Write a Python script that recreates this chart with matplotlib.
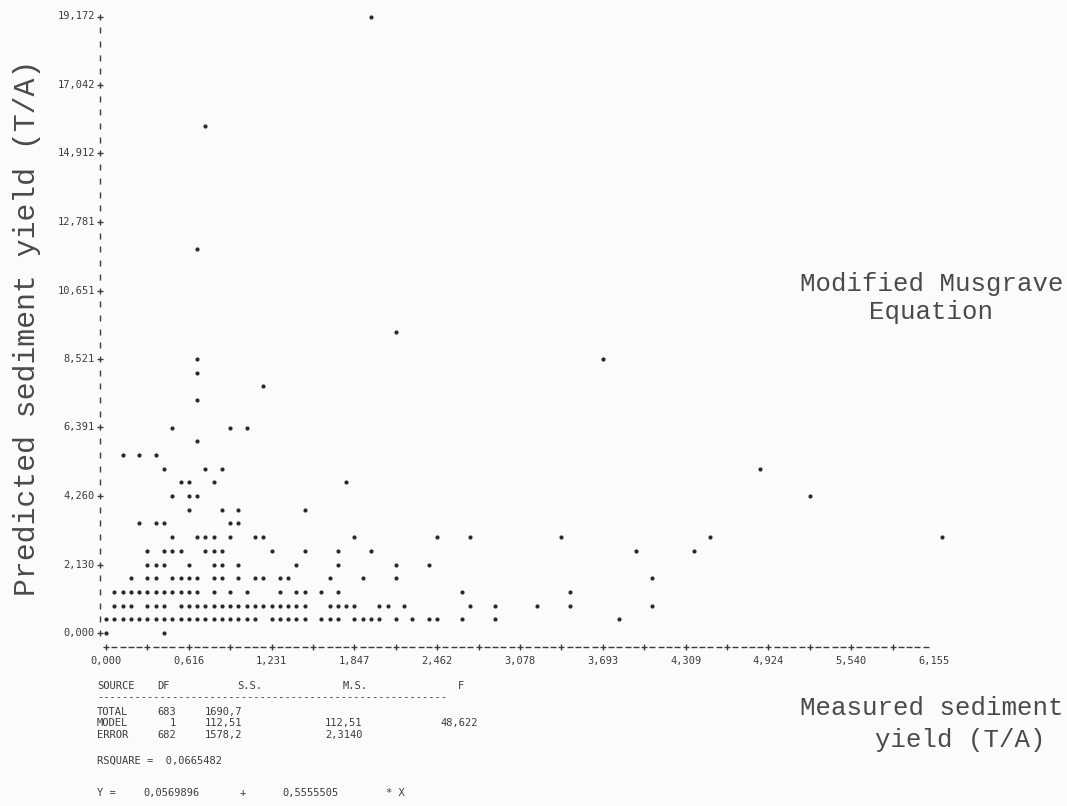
import matplotlib.pyplot as plt

# =========================
# Axis labels as printed
# =========================
x_tick_values = [0.000, 0.616, 1.231, 1.847, 2.462, 3.078, 3.693, 4.309, 4.924, 5.540, 6.155]
x_tick_labels = ["0,000", "0,616", "1,231", "1,847", "2,462", "3,078",
                 "3,693", "4,309", "4,924", "5,540", "6,155"]
y_tick_values = [0.000, 2.130, 4.260, 6.391, 8.521, 10.651, 12.781, 14.912, 17.042, 19.172]
y_tick_labels = ["0,000", "2,130", "4,260", "6,391", "8,521",
                 "10,651", "12,781", "14,912", "17,042", "19,172"]

# one printer column / one printer line in data units
XSTEP = x_tick_values[-1] / 100
YSTEP = y_tick_values[-1] / 45

# =========================
# Points: printer columns on each printer line
# =========================
line_0 = [0, 7]
line_1 = [0, 1, 2, 3, 4, 5, 6, 7, 8, 9, 10, 11, 12, 13, 14, 15, 16, 17, 18,
          20, 21, 22, 23, 24, 26, 27, 28, 30, 31, 32, 33, 35, 37, 39, 40, 43, 47, 62]
line_2 = [1, 2, 3, 5, 6, 7, 9, 10, 11, 12, 13, 14, 15, 16, 17, 18, 19, 20, 21, 22, 23, 24,
          27, 28, 29, 30, 33, 34, 36, 44, 47, 52, 56, 66]
line_3 = [1, 2, 3, 4, 5, 6, 7, 8, 9, 10, 11, 13, 15, 17, 21, 23, 24, 26, 28, 43, 56]
line_4 = [3, 5, 6, 8, 9, 10, 11, 13, 14, 16, 18, 19, 21, 22, 27, 31, 35, 66]
line_5 = [5, 6, 7, 10, 13, 14, 16, 23, 28, 35, 39]
line_6 = [5, 7, 8, 9, 12, 13, 14, 20, 24, 28, 32, 64, 71]
line_7 = [8, 11, 12, 13, 15, 18, 19, 30, 40, 44, 55, 73, 101]
line_8 = [4, 6, 7, 15, 16]
line_9 = [10, 14, 16, 24]
line_10 = [8, 10, 11, 85]
line_11 = [9, 10, 13, 29]
line_12 = [7, 12, 14, 79]
line_13 = [2, 4, 6]
line_14 = [11]
line_15 = [8, 15, 17]
lines = [line_0, line_1, line_2, line_3, line_4, line_5, line_6, line_7,
         line_8, line_9, line_10, line_11, line_12, line_13, line_14, line_15]

upper_col = [11, 19, 11, 11, 60, 35, 11, 12, 32]
upper_line = [17, 18, 19, 20, 20, 22, 28, 37, 45]

# =========================
# Page geometry (pixels)
# =========================
W, H = 1067, 806
COL0, COLW = 106, 8.28
LINE0, LINEH = 633, 13.7

INK = "#2a2a2a"
PRINT = "#3c3c3c"
TYPE = "#4a4a4a"
MONO = "DejaVu Sans Mono"
TYPEFACE = "Liberation Mono"


def fx(px):
    return px / W


def fy(py):
    return 1 - py / H


def main():
    fig = plt.figure(figsize=(W / 100, H / 100), dpi=100, facecolor="#fbfbfa")
    ax = fig.add_axes([0, 0, 1, 1])
    ax.set_facecolor("#fbfbfa")

    xpp = XSTEP / COLW
    ypp = YSTEP / LINEH
    ax.set_xlim(-COL0 * xpp, (W - COL0) * xpp)
    ax.set_ylim(-(H - LINE0) * ypp, LINE0 * ypp)
    ax.axis("off")

    # data
    xs, ys = [], []
    for i, cols in enumerate(lines):
        xs += [c * XSTEP for c in cols]
        ys += [i * YSTEP] * len(cols)
    xs += [c * XSTEP for c in upper_col]
    ys += [r * YSTEP for r in upper_line]
    ax.scatter(xs, ys, s=9, color=INK, linewidths=0)

    # vertical axis: '+' at labelled lines, '|' between
    axis_x = -6 * xpp
    bars = [r for r in range(46) if r % 5]
    ax.plot([axis_x] * len(bars), [r * YSTEP for r in bars], ls="none",
            marker="|", ms=5, mew=1.0, color=PRINT)
    ax.plot([axis_x] * len(y_tick_values), y_tick_values, ls="none",
            marker="+", ms=5, mew=1.0, color=PRINT)
    for v, lab in zip(y_tick_values, y_tick_labels):
        ax.text(axis_x - 5 * xpp, v, lab, ha="right", va="center",
                fontsize=7.5, family=MONO, color=PRINT)

    # horizontal axis: '+----+----' one line below zero
    base_y = -YSTEP
    dash_cols = [c for c in range(101) if c % 5]
    plus_cols = [c for c in range(0, 100, 5)]
    ax.plot([c * XSTEP for c in dash_cols], [base_y] * len(dash_cols), ls="none",
            marker="_", ms=4.5, mew=1.0, color=PRINT)
    ax.plot([c * XSTEP for c in plus_cols], [base_y] * len(plus_cols), ls="none",
            marker="+", ms=5, mew=1.0, color=PRINT)
    for v, lab in zip(x_tick_values, x_tick_labels):
        ax.text(v, -2.05 * YSTEP, lab, ha="center", va="center",
                fontsize=7.5, family=MONO, color=PRINT)

    # analysis of variance block
    table = [
        (97, 686, "SOURCE"), (157, 686, "DF"), (237, 686, "S.S."),
        (343, 686, "M.S."), (458, 686, "F"),
        (97, 697, "-" * 56),
        (97, 712, "TOTAL"), (157, 712, "683"), (205, 712, "1690,7"),
        (97, 723, "MODEL"), (170, 723, "1"), (205, 723, "112,51"),
        (325, 723, "112,51"), (440, 723, "48,622"),
        (97, 735, "ERROR"), (157, 735, "682"), (205, 735, "1578,2"),
        (325, 735, "2,3140"),
        (97, 761, "RSQUARE =  0,0665482"),
        (97, 793, "Y ="), (143, 793, "0,0569896"), (240, 793, "+"),
        (282, 793, "0,5555505"), (386, 793, "* X"),
    ]
    for px, py, s in table:
        fig.text(fx(px), fy(py), s, ha="left", va="center",
                 fontsize=7.5, family=MONO, color=PRINT)

    # typed labels
    fig.text(fx(1063), fy(284), "Modified Musgrave", ha="right", va="center",
             fontsize=18.5, family=TYPEFACE, color=TYPE)
    fig.text(fx(931), fy(312), "Equation", ha="center", va="center",
             fontsize=18.5, family=TYPEFACE, color=TYPE)
    fig.text(fx(1063), fy(708), "Measured sediment", ha="right", va="center",
             fontsize=18.5, family=TYPEFACE, color=TYPE)
    fig.text(fx(960), fy(740), "yield (T/A)", ha="center", va="center",
             fontsize=18.5, family=TYPEFACE, color=TYPE)
    fig.text(fx(27), fy(328), "Predicted sediment yield (T/A)", ha="center",
             va="center", rotation=90, fontsize=21.5, family=TYPEFACE, color=TYPE)

    fig.savefig("out.png", dpi=100, facecolor=fig.get_facecolor())
    plt.close(fig)


if __name__ == "__main__":
    main()
